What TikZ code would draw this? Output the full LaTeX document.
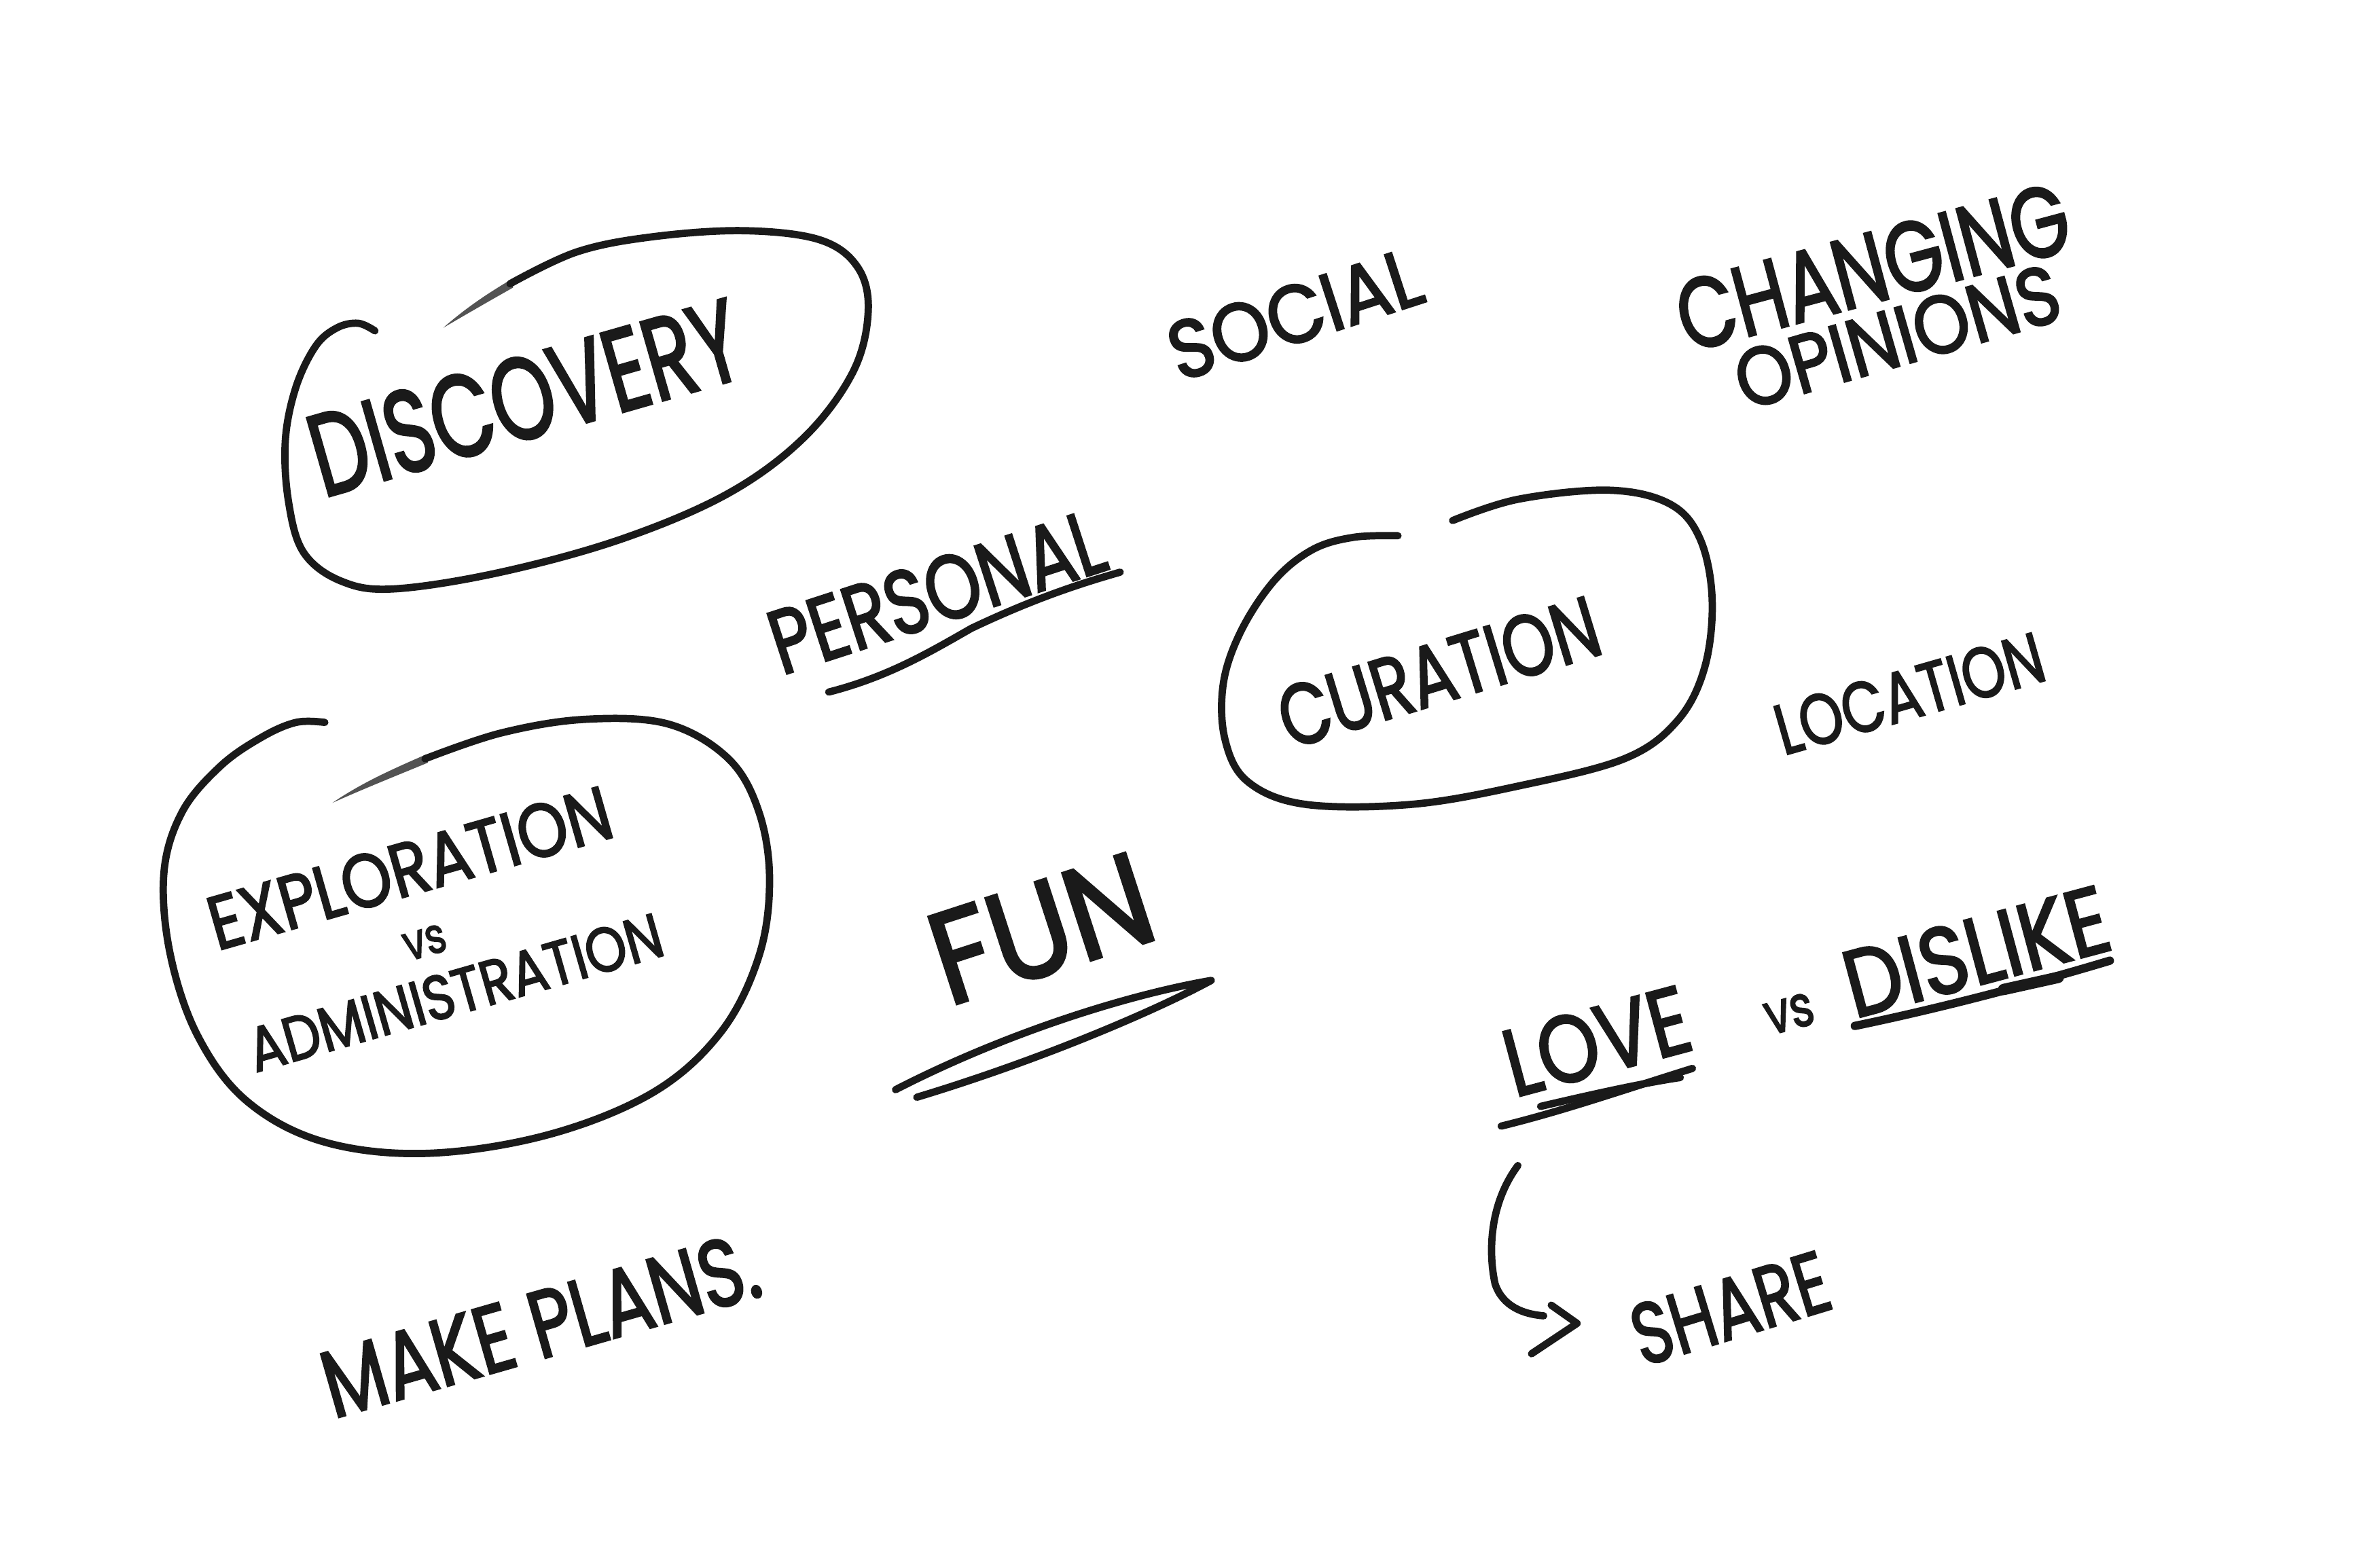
\documentclass[tikz,border=0pt]{standalone}
\usepackage{fontspec}
\setmainfont{Poppins}
\newfontfamily\handfont{Poppins}[FakeBold=2.5]
\usepackage{graphicx}
\definecolor{ink}{HTML}{1A1A1A}
\newcommand{\hw}[3]{\resizebox{#1pt}{#2pt}{\handfont #3}}
\tikzset{
  stroke/.style={line width=4.8pt, line cap=round, line join=round, draw=ink},
  thick stroke/.style={line width=5.5pt, line cap=round, line join=round, draw=ink},
  taper/.style={fill=ink!75, draw=none},
  hand/.style={inner sep=0pt, outer sep=0pt, text=ink, anchor=center},
}
\begin{document}
\begin{tikzpicture}[x=1pt,y=-1pt]
\useasboundingbox (0,0) rectangle (1568,1018);
\fill[white] (0,0) rectangle (1568,1018);

% ---------- DISCOVERY loop ----------
\fill[taper] (292,216) .. controls (308,202) and (322,193) .. (337,184) -- (338,189.5) .. controls (323,198) and (309,206) .. (292,216) -- cycle;
\draw[stroke] plot[smooth, tension=0.6] coordinates {(336,187) (380,166) (430,156) (490,152) (540,158) (565,176) (572,205) (562,245) (530,288) (480,325) (410,355) (330,377) (260,388) (225,383) (200,364) (190,330) (188,290) (195,255) (208,228) (222,216) (236,213) (247,218)};
\node[hand, rotate=16] (discovery) at (346,262) {\hw{292}{54}{DISCOVERY}};

% ---------- SOCIAL ----------
\node[hand, rotate=18] (social) at (853,207) {\hw{172}{38}{SOCIAL}};

% ---------- CHANGING OPINIONS ----------
\node[hand, rotate=15] (changing) at (1234,176) {\hw{265}{46}{CHANGING}};
\node[hand, rotate=16] (opinions) at (1250,222) {\hw{220}{38}{OPINIONS}};

% ---------- PERSONAL ----------
\node[hand, rotate=18] (personal) at (617,390) {\hw{228}{42}{PERSONAL}};
\coordinate (perA) at (546,456);
\coordinate (perB) at (738,377);
\draw[stroke] (perA) .. controls (585,446) and (612,430) .. (640,414) .. controls (680,395) and (710,385) .. (perB);

% ---------- CURATION loop ----------
\draw[stroke] plot[smooth, tension=0.6] coordinates {(957,343) (1000,329) (1060,323) (1100,332) (1120,355) (1128,395) (1123,440) (1105,475) (1070,500) (1000,518) (930,530) (860,530) (822,515) (807,487) (806,450) (818,415) (840,382) (865,362) (892,354) (921,353)};
\node[hand, rotate=17] (curation) at (948,443) {\hw{218}{40}{CURATION}};

% ---------- LOCATION ----------
\node[hand, rotate=16] (location) at (1258,457) {\hw{182}{33}{LOCATION}};

% ---------- EXPLORATION loop ----------
\fill[taper] (219,529) .. controls (238,516) and (258,507) .. (281,497) -- (282,502.5) .. controls (259,512) and (239,520) .. (219,529) -- cycle;
\draw[stroke] plot[smooth, tension=0.6] coordinates {(280,500) (330,483) (385,474) (440,477) (480,500) (500,535) (507,580) (500,630) (475,680) (430,720) (360,748) (280,760) (212,752) (162,725) (130,682) (112,628) (108,575) (120,535) (145,505) (172,486) (195,476) (214,476)};
\node[hand, rotate=16] (exploration) at (270,572) {\hw{274}{35}{EXPLORATION}};
\node[hand, rotate=16] (vsA) at (280,621) {\hw{28}{18}{vs}};
\node[hand, rotate=16] (administration) at (300,654) {\hw{282}{29}{ADMINISTRATION}};

% ---------- FUN ----------
\node[hand, rotate=18] (fun) at (686,612) {\hw{148}{60}{FUN}};
\coordinate (funA) at (590,718);
\coordinate (funTip) at (798,646);
\coordinate (funB) at (604,723);
\draw[stroke] (funA) .. controls (660,682) and (740,656) .. (funTip) .. controls (765,664) and (690,697) .. (funB);

% ---------- LOVE vs DISLIKE ----------
\node[hand, rotate=15] (love) at (1052,686) {\hw{124}{44}{LOVE}};
\node[hand, rotate=15] (vsB) at (1179,668) {\hw{32}{21}{vs}};
\node[hand, rotate=15] (dislike) at (1302,627) {\hw{178}{44}{DISLIKE}};
\coordinate (loveA) at (989,742);
\coordinate (loveB) at (1115,704);
\coordinate (loveC) at (1015,729);
\coordinate (loveD) at (1107,710);
\draw[stroke] (loveA) .. controls (1030,732) and (1070,718) .. (loveB);
\draw[stroke] (loveC) .. controls (1045,722) and (1080,714) .. (loveD);
\coordinate (disA) at (1222,676);
\coordinate (disB) at (1390,633);
\draw[thick stroke] (disA) .. controls (1280,664) and (1340,648) .. (disB);
\draw[line width=7.5pt, line cap=round, draw=ink] (1320,652) -- (1356,644);

% ---------- arrow to SHARE ----------
\node[hand, rotate=17] (share) at (1140,862) {\hw{133}{40}{SHARE}};
\coordinate (arrStart) at (1000,768);
\coordinate (arrEnd) at (1017,867);
\draw[stroke] (arrStart) .. controls (980,795) and (981,828) .. (985,846) .. controls (990,861) and (1004,866) .. (arrEnd);
\draw[stroke] (1022,860) -- (1039,872) -- (1009,892);

% ---------- MAKE PLANS. ----------
\node[hand, rotate=16] (makeplans) at (356,873) {\hw{296}{44}{MAKE PLANS.}};

\end{tikzpicture}
\end{document}
